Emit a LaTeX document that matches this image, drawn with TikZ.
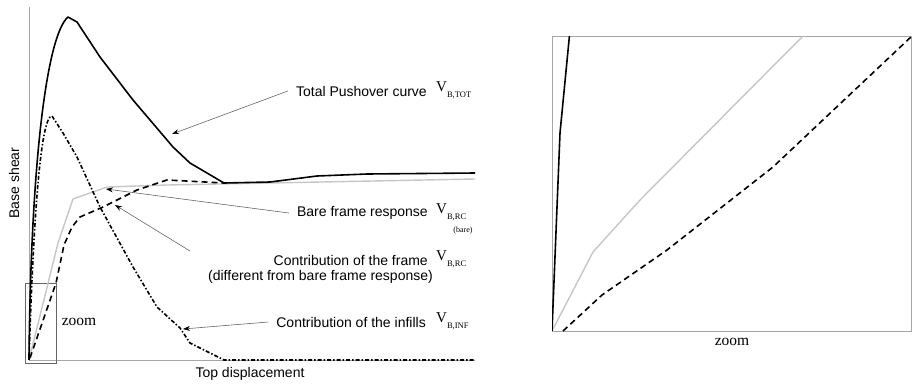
\documentclass[tikz,border=0pt]{standalone}
\usepackage{fontspec}
\setmainfont{Liberation Serif}
\setsansfont{Liberation Sans}
\usetikzlibrary{arrows.meta}
\newcommand{\vlabel}[1]{V\raisebox{-5.5pt}{\fontsize{8.5}{9}\selectfont #1}}
\begin{document}
\begin{tikzpicture}[x=1pt,y=-1pt]
        \tikzstyle{axis_style} = [draw=gray!70,line width=0.8pt]
        \tikzstyle{total_style} = [black,line width=1.6pt,line join=round]
        \tikzstyle{frame_style} = [black,line width=1.6pt,dash pattern=on 6pt off 4pt]
        \tikzstyle{infill_style} = [black,line width=1.6pt,dash pattern=on 4pt off 2pt on 1.5pt off 2pt]
        \tikzstyle{bare_style} = [gray!45,line width=1.4pt]
        \tikzstyle{label_style} = [font=\sffamily\fontsize{14}{16}\selectfont,inner sep=0pt]
        \tikzstyle{v_style} = [font=\fontsize{15}{17}\selectfont,inner sep=0pt,anchor=west]
        \tikzstyle{pointer_style} = [draw=gray!80!black,line width=0.6pt,-{Stealth[black,length=7pt,width=5pt]}]
        \useasboundingbox (0,0) rectangle (912,386);
        % left plot
        \draw[axis_style] (29,7) -- (29,360) -- (475,360);
        \draw[draw=gray!80!black,line width=0.8pt] (25,283) rectangle (56,363);
        \draw[bare_style] (29,360) -- (58,243) -- (73,199) -- (107,187) -- (167,185) -- (475,179);
        \draw[frame_style] (30,358) -- (56,283) -- (64,245) -- (72,227) -- (80,217) -- (103,207)
          -- (137,190) -- (167,180) -- (224,183);
        \draw[infill_style] (29,360) .. controls (33,230) and (40,116) .. (52,116)
          -- (63,133) -- (77,157) -- (100,207) -- (133,267) -- (157,307) -- (180,328)
          -- (190,343) -- (224,360) -- (475,360);
        \draw[total_style] (29,358) .. controls (31,160) and (47,35) .. (68,17)
          -- (77,22) -- (100,57) -- (133,100) -- (173,147) -- (190,163)
          -- (224,183) -- (270,182) -- (317,176) -- (367,174) -- (475,173);
        \node[font=\fontsize{15.5}{17}\selectfont,inner sep=0pt] (zoomtext) at (79,322) {zoom};
        \node[label_style] (xlabel) at (250,374) {Top displacement};
        \node[label_style,rotate=90] (ylabel) at (14,183) {Base shear};
        % labels and pointers
        \node[label_style,anchor=east] (total) at (427,91) {Total Pushover curve};
        \node[v_style] (vtot) at (436,90) {\vlabel{B,TOT}};
        \node[label_style,anchor=east] (bare) at (428,213) {Bare frame response};
        \node[v_style] (vbare) at (436,212) {\vlabel{B,RC}};
        \node[font=\fontsize{8}{9}\selectfont,inner sep=0pt] (barenote) at (463,231) {(bare)};
        \node[label_style,anchor=east] (frame) at (428,260) {Contribution of the frame};
        \node[label_style,anchor=east] (framenote) at (433,277) {(different from bare frame response)};
        \node[v_style] (vframe) at (436,259) {\vlabel{B,RC}};
        \node[label_style,anchor=east] (infill) at (426,322) {Contribution of the infills};
        \node[v_style] (vinfill) at (436,321) {\vlabel{B,INF}};
        \coordinate (totaltip) at (172,134);
        \coordinate (baretip) at (106,189);
        \coordinate (frametip) at (115,205);
        \coordinate (frametail) at (190,251);
        \coordinate (infilltip) at (183,329);
        \draw[pointer_style] ([xshift=-8pt]total.west) -- (totaltip);
        \draw[pointer_style] ([xshift=-8pt]bare.west) -- (baretip);
        \draw[pointer_style] (frametail) -- (frametip);
        \draw[pointer_style] ([xshift=-8pt]infill.west) -- (infilltip);
        % zoomed plot
        \draw[axis_style] (552,36) rectangle (911,331);
        \begin{scope}
          \clip (552,36) rectangle (911,331);
          \draw[bare_style] (552,331) -- (593,252) -- (640,200) -- (803,36);
          \draw[frame_style] (563,331) -- (602,295) -- (667,250) -- (773,167) -- (912,36);
          \draw[total_style] (552,331) -- (560,133) -- (570,30);
        \end{scope}
        \node[font=\fontsize{15.5}{17}\selectfont,inner sep=0pt] (zoomlabel) at (732,342) {zoom};
      \end{tikzpicture}
\end{document}
